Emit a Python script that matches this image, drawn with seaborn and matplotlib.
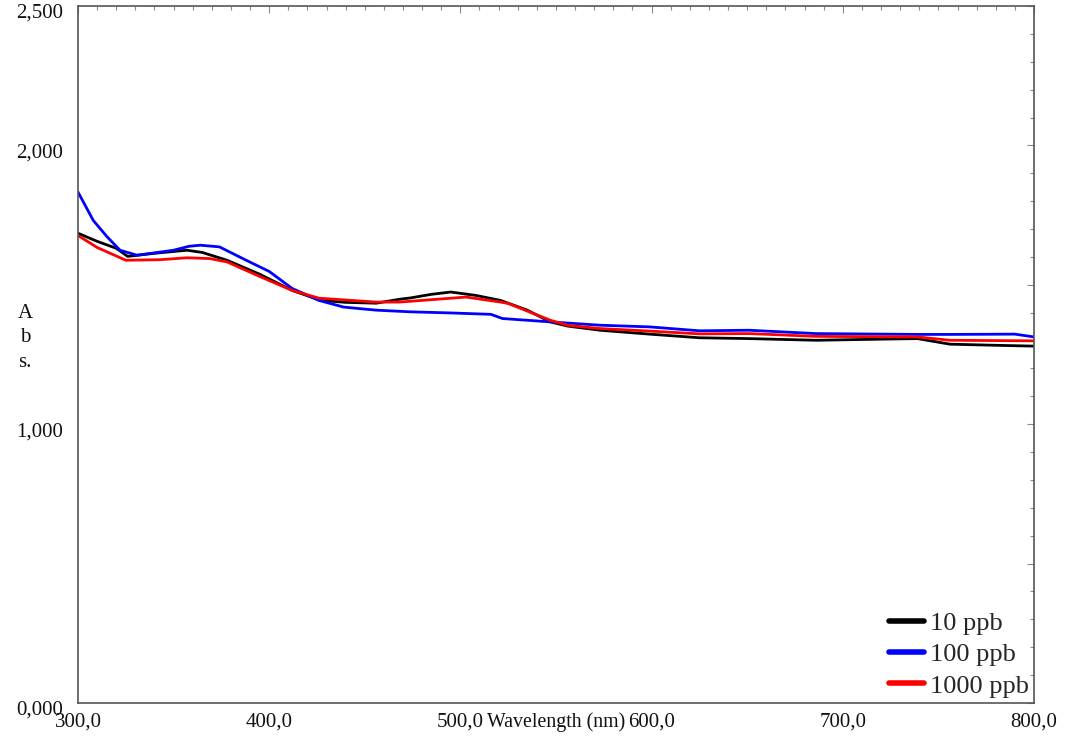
import numpy as np
import pandas as pd
import matplotlib
matplotlib.use("Agg")
import matplotlib.pyplot as plt
import matplotlib.transforms as mtransforms
from matplotlib.ticker import MultipleLocator, FixedLocator
import seaborn as sns

# Absorbance spectra (wavelength in nm, absorbance)
wl_10 = [300, 310, 320, 326, 340, 357, 365, 378, 395, 412, 427, 440, 456, 468, 474,
         485, 495, 508, 521, 535, 547, 556, 573, 599, 625, 651, 686, 720, 739, 756, 780, 800]
abs_10 = [1.685, 1.656, 1.631, 1.602, 1.613, 1.624, 1.616, 1.588, 1.538, 1.480, 1.444,
          1.437, 1.434, 1.448, 1.453, 1.466, 1.474, 1.462, 1.444, 1.409, 1.367, 1.352,
          1.337, 1.323, 1.310, 1.307, 1.301, 1.305, 1.307, 1.287, 1.283, 1.280]

wl_100 = [300, 308, 315, 322, 331, 350, 358, 364, 374, 388, 400, 412, 426, 439, 456,
          474, 495, 516, 522, 547, 573, 599, 625, 651, 686, 739, 756, 790, 800]
abs_100 = [1.833, 1.731, 1.674, 1.624, 1.606, 1.624, 1.638, 1.642, 1.636, 1.588, 1.548,
           1.487, 1.444, 1.420, 1.409, 1.403, 1.399, 1.394, 1.379, 1.367, 1.355, 1.349,
           1.335, 1.337, 1.325, 1.322, 1.322, 1.323, 1.313]

wl_1000 = [300, 310, 325, 343, 357, 369, 378, 395, 412, 426, 456, 468, 474, 503, 521,
           525, 547, 556, 573, 599, 625, 651, 686, 739, 756, 800]
abs_1000 = [1.677, 1.634, 1.588, 1.590, 1.597, 1.594, 1.582, 1.530, 1.480, 1.452, 1.438,
            1.438, 1.441, 1.456, 1.438, 1.433, 1.373, 1.355, 1.343, 1.334, 1.324, 1.325,
            1.315, 1.313, 1.301, 1.299]

series_names = ["10 ppb", "100 ppb", "1000 ppb"]
series_colors = ["#000000", "#0000ff", "#ff0000"]

x_ticks = [300, 400, 500, 600, 700, 800]
x_tick_labels = ["300,0", "400,0", "500,0", "600,0", "700,0", "800,0"]
y_ticks = [0.0, 0.5, 1.0, 1.5, 2.0, 2.5]
y_tick_labels = ["0,000", "", "1,000", "", "2,000", "2,500"]

frames = []
for name, wl, ab in zip(series_names, [wl_10, wl_100, wl_1000], [abs_10, abs_100, abs_1000]):
    frames.append(pd.DataFrame({"wavelength": wl, "absorbance": ab, "sample": name}))
df = pd.concat(frames, ignore_index=True)

sns.set_style("white")
plt.rcParams["font.family"] = ["Liberation Serif", "DejaVu Serif"]

fig = plt.figure(figsize=(10.65, 7.42), dpi=100)
ax = fig.add_axes([0.0732, 0.0526, 0.8977, 0.9393])

sns.lineplot(data=df, x="wavelength", y="absorbance", hue="sample",
             palette=dict(zip(series_names, series_colors)), sort=False,
             linewidth=2.0, ax=ax, legend=True)

ax.set_xlim(300, 800)
ax.set_ylim(0, 2.5)
ax.xaxis.set_major_locator(FixedLocator(x_ticks))
ax.set_xticklabels(x_tick_labels)
ax.xaxis.set_minor_locator(MultipleLocator(10))
ax.yaxis.set_major_locator(FixedLocator(y_ticks))
ax.set_yticklabels(y_tick_labels)
ax.yaxis.set_minor_locator(MultipleLocator(0.1))

ax.tick_params(axis="both", which="both", direction="in", top=True, right=True,
               color="#888888", width=0.8)
ax.tick_params(axis="both", which="major", length=5, labelsize=15, labelcolor="#111111")
ax.tick_params(axis="both", which="minor", length=3)
ax.tick_params(axis="x", which="major", pad=7)
ax.tick_params(axis="y", which="major", pad=11)

# y tick labels sit slightly below their ticks
shift = mtransforms.ScaledTranslation(0, -5 / 100, fig.dpi_scale_trans)
for lbl in ax.get_yticklabels():
    lbl.set_transform(lbl.get_transform() + shift)

for side in ["left", "right", "top", "bottom"]:
    ax.spines[side].set_color("#555555")
    ax.spines[side].set_linewidth(1.2)

ax.set_xlabel("")
ax.set_ylabel("")
fig.text(0.5222, 0.0265, "Wavelength (nm)", ha="center", va="center", fontsize=14.3,
         color="#111111")
fig.text(0.0235, 0.545, "A\nb\ns.", ha="center", va="center", fontsize=15,
         color="#111111", linespacing=1.4)

handles, labels = ax.get_legend_handles_labels()
for h in handles:
    h.set_linewidth(4)
ax.legend(handles, labels, loc="lower right", frameon=False, fontsize=19,
          handlelength=1.35, handletextpad=0.2, labelspacing=0.3,
          borderaxespad=0.0, borderpad=0.2, bbox_to_anchor=(1.0, 0.0))

fig.savefig("out.png", dpi=100)
